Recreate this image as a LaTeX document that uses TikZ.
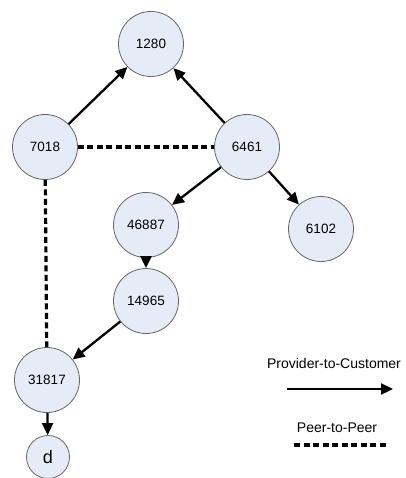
\documentclass[tikz,border=0pt]{standalone}
\usepackage{fontspec}
\setmainfont{Liberation Sans}
\usetikzlibrary{arrows.meta}
\definecolor{nodefill}{HTML}{E6ECF7}
\definecolor{nodeline}{HTML}{666666}
\begin{document}
\begin{tikzpicture}[x=1pt,y=-1pt,
  as/.style={circle,draw=nodeline,fill=nodefill,line width=0.8pt,minimum size=65pt,inner sep=0pt,font=\fontsize{13.5}{15}\selectfont},
  small/.style={as,minimum size=43pt,font=\fontsize{18}{18}\selectfont},
  pc/.style={line width=2.3pt,-{Triangle[length=12pt,width=11pt]}},
  pp/.style={line width=3.2pt,dash pattern=on 6pt off 3.5pt}]
\useasboundingbox (0,0) rectangle (405,478);
\node[as] (n1280) at (151,44) {1280};
\node[as] (n7018) at (45,147) {7018};
\node[as] (n6461) at (247,147) {6461};
\node[as] (n46887) at (146,225) {46887};
\node[as] (n6102) at (321,229) {6102};
\node[as] (n14965) at (146,301) {14965};
\node[as] (n31817) at (47,380) {31817};
\node[small] (nd) at (48,457) {d};
\draw[pc] (n7018) -- (n1280);
\draw[pc] (n6461) -- (n1280);
\draw[pc] (n6461) -- (n46887);
\draw[pc] (n6461) -- (n6102);
\draw[pc] (n46887) -- (n14965);
\draw[pc] (n14965) -- (n31817);
\draw[pc] (n31817) -- (nd);
\draw[pp] (n7018) -- (n6461);
\draw[pp] (n7018) -- (n31817);
\node[font=\fontsize{14}{16}\selectfont] (lpc) at (334,363) {Provider-to-Customer};
\coordinate (pcA) at (287,389);
\coordinate (pcB) at (393,389);
\draw[pc] (pcA) -- (pcB);
\node[font=\fontsize{14}{16}\selectfont] (lpp) at (337,428) {Peer-to-Peer};
\coordinate (ppA) at (294,445);
\coordinate (ppB) at (388,445);
\draw[pp] (ppA) -- (ppB);
\end{tikzpicture}
\end{document}
